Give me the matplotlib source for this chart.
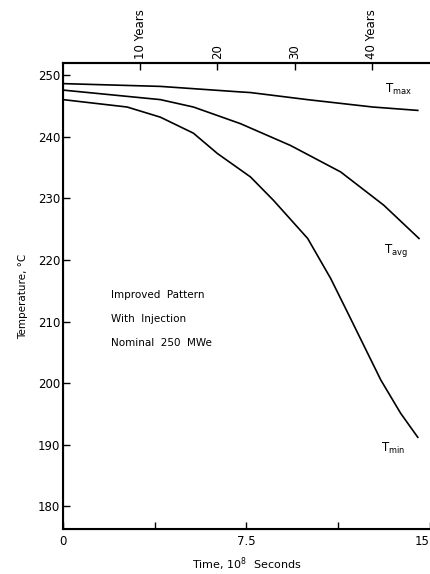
import matplotlib.pyplot as plt
import numpy as np

# Values (time in 1e8 s, temperature in deg C)
t_max = [0, 3.98, 7.25, 7.66, 9.99, 12.66, 14.5]
T_max = [248.65, 248.2, 247.3, 247.2, 246.05, 244.85, 244.3]

t_avg = [0, 3.98, 5.33, 7.25, 9.3, 11.35, 13.11, 14.55]
T_avg = [247.6, 246.05, 244.85, 242.15, 238.6, 234.3, 228.9, 223.5]

t_min = [0, 2.62, 3.98, 5.33, 6.31, 7.66, 8.6, 10.0, 10.94, 11.64, 12.99, 13.8, 14.5]
T_min = [246.05, 244.85, 243.2, 240.6, 237.3, 233.5, 229.7, 223.5, 217.0, 211.4, 200.5, 195.1, 191.2]

years = [10, 20, 30, 40]
year_labels = ["10 Years", "20", "30", "40 Years"]
sec_per_year = 3.156e7

plt.rcParams['font.family'] = ['DejaVu Sans']

fig = plt.figure(figsize=(4.31, 5.74), dpi=100)
ax = fig.add_axes([63 / 431, 45 / 574, 367 / 431, 466 / 574])

for t, T in [(t_max, T_max), (t_avg, T_avg), (t_min, T_min)]:
    ax.plot(t, T, color="black", lw=1.2)

ax.set_xlim(0, 15)
ax.set_ylim(176.3, 252)
ax.set_xticks([0, 7.5, 15])
ax.set_xticklabels(["0", "7.5", "15"])
ax.set_xticks([3.75, 11.25], minor=True)
ax.set_yticks(np.arange(180, 251, 10))
ax.tick_params(direction="in", length=5, width=1, labelsize=8.5, pad=2)
ax.tick_params(which="minor", direction="in", length=5, width=1)
ax.tick_params(axis="x", pad=4)
# last x label sits at the picture edge, keep it inside
ax.get_xticklabels()[-1].set_horizontalalignment("right")
ax.spines["right"].set_visible(False)
for s in ["left", "bottom", "top"]:
    ax.spines[s].set_linewidth(1.5)

ax.set_xlabel("Time, 10$^8$  Seconds", fontsize=8, labelpad=6)
ax.set_ylabel("Temperature, \u00b0C", fontsize=7.5, labelpad=7)

# curve labels
ax.text(13.73, 247.7, r"T$_{\mathrm{max}}$", fontsize=8.5, ha="center", va="center")
ax.text(13.6, 221.6, r"T$_{\mathrm{avg}}$", fontsize=8.5, ha="center", va="center")
ax.text(13.5, 189.4, r"T$_{\mathrm{min}}$", fontsize=8.5, ha="center", va="center")

# annotation block
ax.text(1.97, 214.3, "Improved  Pattern", fontsize=7.5, va="center")
ax.text(1.97, 210.4, "With  Injection", fontsize=7.5, va="center")
ax.text(1.97, 206.5, "Nominal  250  MWe", fontsize=7.5, va="center")

# years axis along the top
ax2 = ax.twiny()
ax2.set_xlim(ax.get_xlim())
ax2.set_xticks([y * sec_per_year / 1e8 for y in years])
ax2.set_xticklabels(year_labels, rotation=90, fontsize=8.5)
ax2.tick_params(direction="in", length=5, width=1, pad=3)
ax2.spines["right"].set_visible(False)
ax2.spines["top"].set_linewidth(1.5)

fig.savefig("out.png", dpi=100)
